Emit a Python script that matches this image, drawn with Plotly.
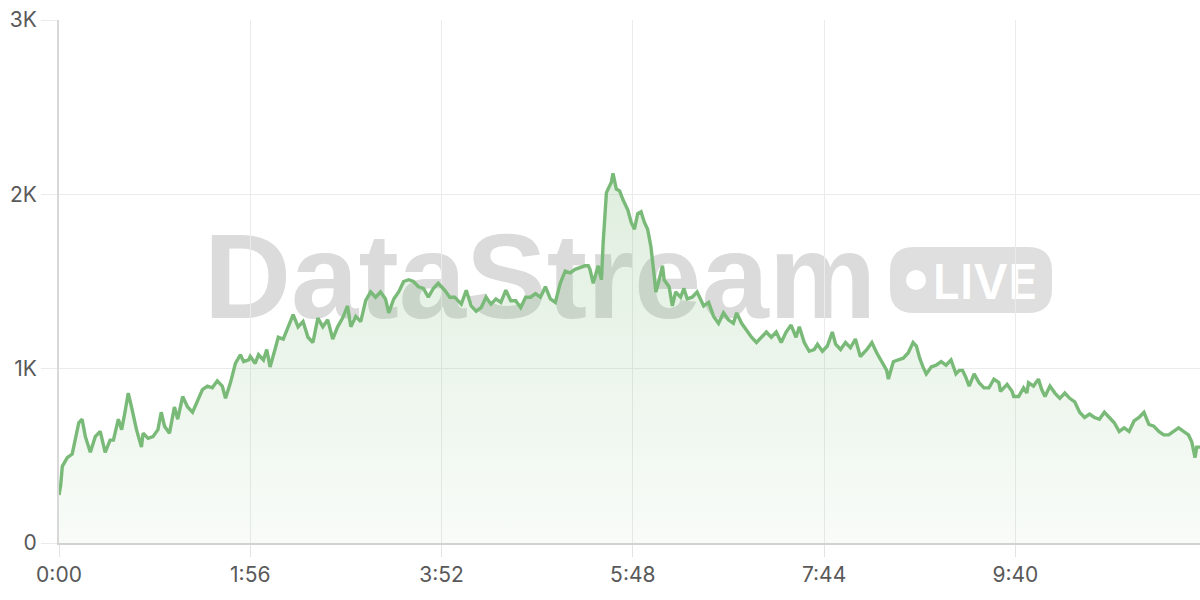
import plotly.graph_objects as go

# ---- data ----
time_s = [0,1,2,4,5,8,10,12,14,16,19,22,25,28,31,33,36,38,40,42,44,47,50,51,54,57,60,62,64,67,70,72,75,78,81,84,87,90,93,96,99,101,104,107,110,112,115,116,119,121,124,126,128,131,133,136,139,142,145,148,151,154,157,160,163,166,169,172,175,177,180,183,186,189,192,195,198,200,203,206,209,212,215,218,221,224,227,230,234,237,240,244,247,250,253,256,259,262,265,268,271,274,277,280,283,286,289,292,295,298,301,304,307,310,313,316,319,321,322,324,327,329,330,332,333,335,336,338,340,342,345,347,349,351,353,355,357,359,361,362,364,366,367,370,372,374,377,379,381,384,387,391,394,397,400,403,406,409,411,414,417,420,423,426,429,432,435,438,441,444,447,449,452,455,458,460,463,466,469,471,474,477,480,483,486,490,493,496,499,502,503,506,509,512,515,518,520,522,524,526,529,532,535,538,541,544,546,548,550,552,555,558,561,564,567,570,571,575,578,579,582,585,587,588,591,594,596,598,601,604,607,610,613,616,619,622,625,628,631,634,637,640,643,646,649,652,655,658,661,664,667,670,673,676,679,682,685,687,689,690,692]
values = [275,330,440,480,490,510,590,690,710,610,520,610,640,520,590,590,710,650,750,860,780,650,550,630,600,610,650,750,670,630,780,710,840,780,750,820,880,900,890,930,900,830,920,1030,1080,1040,1050,1070,1030,1080,1050,1110,1010,1110,1180,1170,1240,1310,1240,1270,1180,1150,1290,1240,1280,1170,1240,1290,1360,1240,1300,1270,1390,1440,1410,1440,1400,1320,1400,1440,1500,1510,1500,1470,1460,1410,1460,1490,1450,1410,1410,1370,1450,1360,1330,1350,1410,1370,1400,1380,1450,1390,1390,1350,1410,1410,1430,1410,1470,1400,1380,1490,1560,1550,1570,1580,1590,1590,1570,1490,1590,1510,1720,2010,2030,2070,2120,2030,2020,1970,1910,1840,1800,1890,1900,1840,1800,1700,1530,1440,1510,1590,1510,1470,1360,1440,1410,1460,1400,1410,1440,1360,1380,1300,1260,1320,1280,1260,1320,1260,1220,1180,1150,1180,1210,1180,1210,1150,1210,1250,1180,1240,1150,1100,1110,1140,1100,1130,1210,1140,1110,1150,1120,1170,1070,1110,1150,1090,1040,990,940,1040,1050,1060,1090,1150,1130,1060,1010,970,1010,1020,1040,1020,1050,970,990,990,950,900,970,920,890,890,940,920,870,910,870,840,840,890,860,920,900,940,880,840,900,860,830,860,830,810,750,720,740,720,710,750,720,690,640,660,640,700,720,750,680,670,640,620,620,640,660,640,620,580,490,550,550]

x_tick_vals = [0, 116, 232, 348, 464, 580]
x_tick_text = ["0:00", "1:56", "3:52", "5:48", "7:44", "9:40"]
y_tick_vals = [0, 1000, 2000, 3000]
y_tick_text = ["0", "1K", "2K", "3K"]

LINE = "#7aba78"

fig = go.Figure()
fig.add_trace(go.Scatter(
    x=time_s, y=values, mode="lines",
    line=dict(color=LINE, width=3.4),
    fill="tozeroy",
    fillgradient=dict(type="vertical",
                      colorscale=[[0, "rgba(121,185,119,0.05)"], [1, "rgba(121,185,119,0.24)"]]),
    hoverinfo="skip", showlegend=False,
))

# ---- watermark (below the trace) ----
def px2paper_x(px):
    return (px - 59) / 1141

def py2paper_y(py):
    return (543 - py) / 523

shapes = []
shapes.append(dict(
    type="rect", xref="paper", yref="paper", layer="below",
    x0=px2paper_x(200), x1=px2paper_x(880), y0=py2paper_y(321), y1=py2paper_y(208),
    line=dict(width=0), fillcolor="rgba(0,0,0,0)",
    label=dict(text="DataStream", textposition="middle center",
               font=dict(family="Liberation Sans", size=121, color="#dbdbdb", weight=700)),
))
bx0, bx1 = px2paper_x(890), px2paper_x(1052)
by0, by1 = py2paper_y(313), py2paper_y(247)
rx, ry = 24 / 1141, 24 / 523
path = (f"M{bx0+rx},{by0} L{bx1-rx},{by0} Q{bx1},{by0} {bx1},{by0+ry} "
        f"L{bx1},{by1-ry} Q{bx1},{by1} {bx1-rx},{by1} L{bx0+rx},{by1} "
        f"Q{bx0},{by1} {bx0},{by1-ry} L{bx0},{by0+ry} Q{bx0},{by0} {bx0+rx},{by0} Z")
shapes.append(dict(type="path", xref="paper", yref="paper", layer="below",
                   path=path, fillcolor="#dfdfdf", line=dict(width=0)))
shapes.append(dict(type="circle", xref="paper", yref="paper", layer="below",
                   x0=px2paper_x(906), x1=px2paper_x(926), y0=py2paper_y(290), y1=py2paper_y(270),
                   fillcolor="#ffffff", line=dict(width=0)))
shapes.append(dict(
    type="rect", xref="paper", yref="paper", layer="below",
    x0=px2paper_x(935), x1=px2paper_x(1035), y0=py2paper_y(300), y1=py2paper_y(260),
    line=dict(width=0), fillcolor="rgba(0,0,0,0)",
    label=dict(text="LIVE", textposition="middle center",
               font=dict(family="Inter", size=48, color="#ffffff", weight=600)),
))

fig.update_layout(
    width=1200, height=600,
    margin=dict(l=59, r=0, t=20, b=57),
    paper_bgcolor="#ffffff", plot_bgcolor="#ffffff",
    shapes=shapes,
    xaxis=dict(range=[0, 692], tickvals=x_tick_vals, ticktext=x_tick_text,
               showgrid=True, gridcolor="#ebebeb", gridwidth=1,
               ticks="outside", ticklen=12, tickcolor="#e3e3e3",
               showline=True, linecolor="#d2d2d2", linewidth=2,
               zeroline=False,
               tickfont=dict(family="Inter", size=21, color="#595959")),
    yaxis=dict(range=[0, 3000], tickvals=y_tick_vals, ticktext=y_tick_text,
               showgrid=True, gridcolor="#ebebeb", gridwidth=1,
               ticks="outside", ticklen=16, tickcolor="#ebebeb",
               showline=True, linecolor="#d8d8d8", linewidth=2,
               zeroline=False,
               tickfont=dict(family="Inter", size=21, color="#595959")),
)

fig.write_html("out.html", config={"displayModeBar": False},
               post_script="document.body.style.margin='0';")
